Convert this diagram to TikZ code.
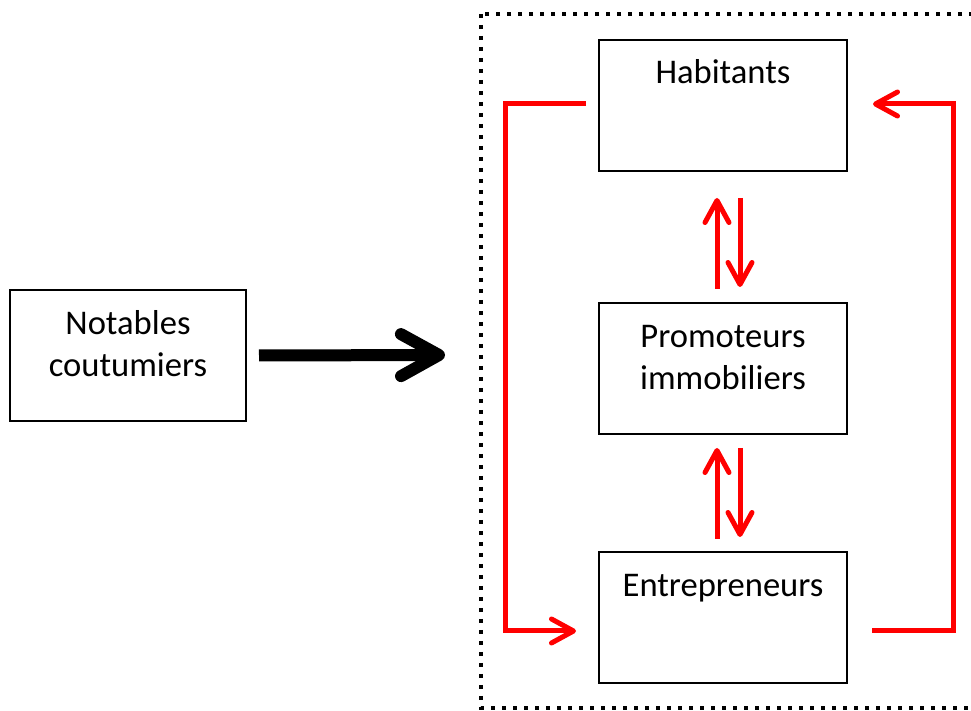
\documentclass[tikz,border=0pt]{standalone}
\usepackage{fontspec}
\setmainfont{Carlito}
\usetikzlibrary{arrows.meta}

\begin{document}
\begin{tikzpicture}[
    x=0.5pt, y=-0.5pt,
    box/.style={draw=black, line width=1pt, minimum width=124pt, minimum height=65.5pt,
        inner xsep=0pt, inner ysep=8pt, align=center, font=\fontsize{17.3}{21}\selectfont,
        text height=14.5pt, text depth=35pt},
    twoline/.style={box, text height=35.5pt, text depth=14pt},
    frame/.style={draw=black, line width=2pt, dash pattern=on 2pt off 3.5pt},
    flow/.style={red, line width=2.5pt, -{Straight Barb[round, length=11pt, width=12pt]}},
    push/.style={line width=6pt, -{Straight Barb[round, length=19pt, width=21pt]}}
]
    \useasboundingbox (0,0) rectangle (971,711);

    % dotted frame (right side runs past the page)
    \draw[frame] (481,14) rectangle (990,708);

    \node[twoline, minimum width=118pt] (notables) at (128,355.5) {Notables\\coutumiers};
    \node[box, text height=14pt, text depth=35.5pt] (hab) at (723,105.5) {Habitants};
    \node[twoline] (prom) at (723,368.5) {Promoteurs\\immobiliers};
    \node[box] (ent) at (723,617.5) {Entrepreneurs};

    \coordinate (target) at (445,355);
    \draw[push] ([xshift=6pt]notables.east) -- (target);

    % two-way exchanges
    \draw[flow] ([xshift=-3pt,yshift=6.5pt]prom.north) -- ([xshift=-3pt,yshift=-13pt]hab.south);
    \draw[flow] ([xshift=8.5pt,yshift=-13pt]hab.south) -- ([xshift=8.5pt,yshift=7.5pt]prom.north);
    \draw[flow] ([xshift=-3pt,yshift=6pt]ent.north) -- ([xshift=-3pt,yshift=-6.5pt]prom.south);
    \draw[flow] ([xshift=8.5pt,yshift=-6.5pt]prom.south) -- ([xshift=8.5pt,yshift=7pt]ent.north);

    % outer loops
    \draw[flow] ([xshift=-6pt,yshift=0.75pt]hab.west) -- ++(-81,0)
        |- ([xshift=-11pt,yshift=-6.75pt]ent.west);
    \draw[flow] ([xshift=12pt,yshift=-6.75pt]ent.east) -- ++(81,0)
        |- ([xshift=12.5pt,yshift=0.75pt]hab.east);
\end{tikzpicture}
\end{document}
